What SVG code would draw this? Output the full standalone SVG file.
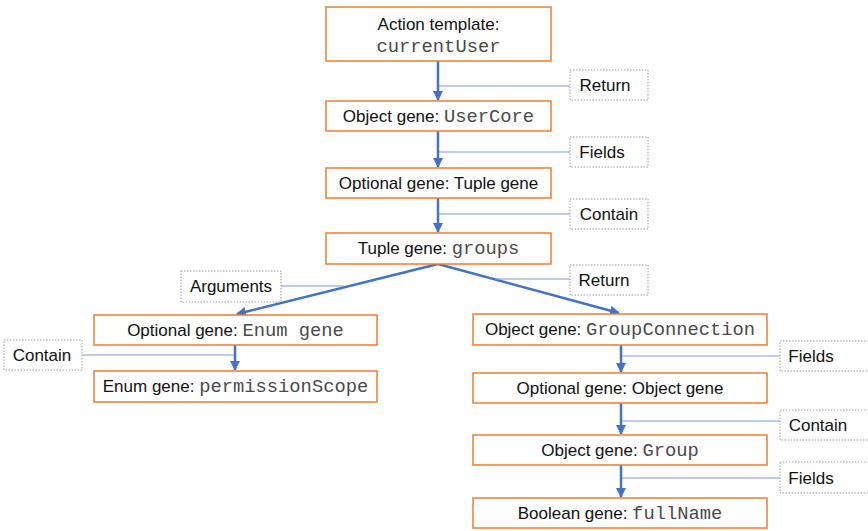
<svg xmlns="http://www.w3.org/2000/svg" width="868" height="531" viewBox="0 0 868 531">
  <style>
    .node rect { fill: #ffffff; stroke: #ED7D31; stroke-width: 1.5; }
    .node text, .tag text { font-family: "Liberation Sans", Arial, sans-serif; font-size: 17px; fill: #111111; text-anchor: middle; }
    .node .mono { font-family: "Liberation Mono", "Courier New", monospace; font-size: 18.8px; fill: #4a4a4a; }
    .tag rect { fill: #ffffff; stroke: #9a9a9a; stroke-width: 1; stroke-dasharray: 1.5 1.5; }
    .flow { stroke: #4472C4; stroke-width: 2.5; fill: none; }
    .lead { stroke: #7A9BD6; stroke-width: 1; fill: none; }
  </style>
  <defs>
    <marker id="arrow" viewBox="0 0 10 10" refX="9" refY="5" markerWidth="4" markerHeight="4" orient="auto">
      <path d="M0,0 L10,5 L0,10 z" fill="#4472C4"/>
    </marker>
  </defs>

  <!-- connectors -->
  <g id="connectors">
    <line class="flow" x1="438" y1="61" x2="438" y2="100" marker-end="url(#arrow)"/>
    <line class="flow" x1="438" y1="131" x2="438" y2="167" marker-end="url(#arrow)"/>
    <line class="flow" x1="438" y1="198" x2="438" y2="232" marker-end="url(#arrow)"/>
    <line class="flow" x1="438" y1="264" x2="237" y2="314" marker-end="url(#arrow)"/>
    <line class="flow" x1="438" y1="264" x2="619" y2="313" marker-end="url(#arrow)"/>
    <line class="flow" x1="235" y1="345" x2="235" y2="370" marker-end="url(#arrow)"/>
    <line class="flow" x1="621" y1="345" x2="621" y2="372" marker-end="url(#arrow)"/>
    <line class="flow" x1="621" y1="403" x2="621" y2="434" marker-end="url(#arrow)"/>
    <line class="flow" x1="621" y1="465" x2="621" y2="497" marker-end="url(#arrow)"/>

    <!-- label leaders -->
    <line class="lead" x1="439" y1="86" x2="570" y2="86"/>
    <line class="lead" x1="439" y1="152" x2="570" y2="152"/>
    <line class="lead" x1="439" y1="214" x2="570" y2="214"/>
    <line class="lead" x1="495" y1="279" x2="570" y2="279"/>
    <line class="lead" x1="281" y1="286" x2="344" y2="286"/>
    <line class="lead" x1="82" y1="355" x2="234" y2="355"/>
    <line class="lead" x1="622" y1="356" x2="780" y2="356"/>
    <line class="lead" x1="622" y1="421" x2="780" y2="421"/>
    <line class="lead" x1="622" y1="478" x2="780" y2="478"/>
  </g>

  <!-- nodes -->
  <g id="action-template" class="node">
    <rect x="326" y="7" width="225" height="54"/>
    <text x="438.5" y="30">Action template:</text>
    <text x="438.5" y="52" class="mono">currentUser</text>
  </g>
  <g id="user-core" class="node">
    <rect x="326" y="101" width="225" height="30"/>
    <text x="438.5" y="122">Object gene: <tspan class="mono">UserCore</tspan></text>
  </g>
  <g id="optional-tuple" class="node">
    <rect x="326" y="168" width="225" height="30"/>
    <text x="438.5" y="189">Optional gene: Tuple gene</text>
  </g>
  <g id="tuple-groups" class="node">
    <rect x="326" y="233" width="225" height="31"/>
    <text x="438.5" y="254">Tuple gene: <tspan class="mono">groups</tspan></text>
  </g>
  <g id="optional-enum" class="node">
    <rect x="94" y="315" width="283" height="30"/>
    <text x="235.5" y="336">Optional gene: <tspan class="mono">Enum gene</tspan></text>
  </g>
  <g id="enum-permission" class="node">
    <rect x="94" y="371" width="283" height="31"/>
    <text x="235.5" y="392">Enum gene: <tspan class="mono">permissionScope</tspan></text>
  </g>
  <g id="group-connection" class="node">
    <rect x="473" y="314" width="294" height="31"/>
    <text x="620" y="335">Object gene: <tspan class="mono">GroupConnection</tspan></text>
  </g>
  <g id="optional-object" class="node">
    <rect x="473" y="373" width="294" height="30"/>
    <text x="620" y="394">Optional gene: Object gene</text>
  </g>
  <g id="group" class="node">
    <rect x="473" y="435" width="294" height="30"/>
    <text x="620" y="456">Object gene: <tspan class="mono">Group</tspan></text>
  </g>
  <g id="full-name" class="node">
    <rect x="473" y="498" width="294" height="30"/>
    <text x="620" y="519">Boolean gene: <tspan class="mono">fullName</tspan></text>
  </g>

  <!-- edge labels -->
  <g id="label-return-1" class="tag">
    <rect x="570" y="70" width="78" height="30"/>
    <text x="605" y="91">Return</text>
  </g>
  <g id="label-fields-1" class="tag">
    <rect x="570" y="137" width="78" height="30"/>
    <text x="602" y="158">Fields</text>
  </g>
  <g id="label-contain-1" class="tag">
    <rect x="570" y="199" width="78" height="30"/>
    <text x="609" y="220">Contain</text>
  </g>
  <g id="label-return-2" class="tag">
    <rect x="570" y="265" width="78" height="30"/>
    <text x="604" y="286">Return</text>
  </g>
  <g id="label-arguments" class="tag">
    <rect x="181" y="271" width="100" height="31"/>
    <text x="231" y="292">Arguments</text>
  </g>
  <g id="label-contain-2" class="tag">
    <rect x="4" y="340" width="78" height="30"/>
    <text x="42" y="361">Contain</text>
  </g>
  <g id="label-fields-2" class="tag">
    <rect x="780" y="341" width="90" height="30"/>
    <text x="811" y="362">Fields</text>
  </g>
  <g id="label-contain-3" class="tag">
    <rect x="780" y="410" width="90" height="30"/>
    <text x="818" y="431">Contain</text>
  </g>
  <g id="label-fields-3" class="tag">
    <rect x="780" y="462" width="90" height="31"/>
    <text x="811" y="484">Fields</text>
  </g>
</svg>
